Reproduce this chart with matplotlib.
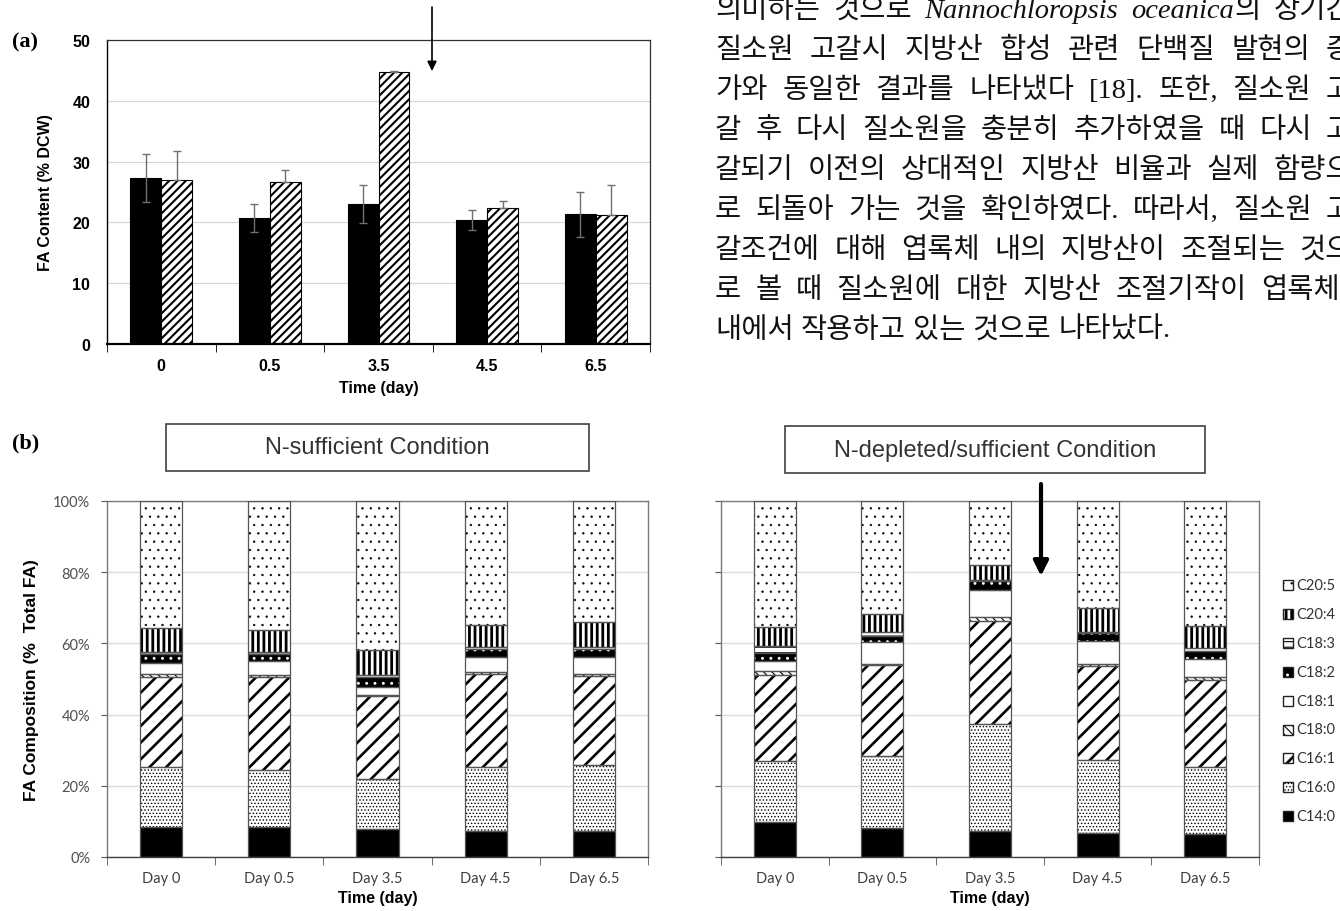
import matplotlib.pyplot as plt
import numpy as np
from matplotlib.patches import Rectangle

plt.rcParams['font.family'] = ['Liberation Sans', 'DejaVu Sans']

W, H = 1340, 912

# (a) total fatty acid content, % of dry cell weight
a_days = ['0', '0.5', '3.5', '4.5', '6.5']
fa_sufficient = [27.3, 20.7, 23.0, 20.4, 21.3]
fa_sufficient_err = [3.9, 2.35, 3.15, 1.6, 3.7]
fa_depleted = [26.9, 26.7, 44.7, 22.4, 21.2]
fa_depleted_err = [4.9, 2.0, 0.2, 1.15, 4.95]

# (b) fatty acid composition, % of total FA (rows follow fatty_acids, columns b_days)
b_days = ['Day 0', 'Day 0.5', 'Day 3.5', 'Day 4.5', 'Day 6.5']
fatty_acids = ['C14:0', 'C16:0', 'C16:1', 'C18:0', 'C18:1', 'C18:2', 'C18:3', 'C20:4', 'C20:5']
comp_sufficient = [
    [8.5, 8.3, 7.9, 7.4, 7.4],
    [16.9, 16.2, 14.1, 18.0, 18.5],
    [25.1, 26.2, 23.1, 26.0, 25.0],
    [0.8, 0.4, 0.4, 0.5, 0.5],
    [3.2, 4.0, 2.3, 4.3, 4.9],
    [2.5, 2.0, 2.7, 2.2, 2.1],
    [0.7, 0.5, 0.5, 0.6, 0.6],
    [6.7, 6.3, 7.2, 6.3, 7.1],
    [35.6, 36.1, 41.8, 34.7, 33.9],
]
comp_depleted = [
    [9.8, 8.1, 7.2, 6.8, 6.5],
    [17.1, 20.2, 30.3, 20.5, 18.8],
    [24.3, 25.5, 28.9, 26.3, 24.3],
    [1.0, 0.5, 1.0, 0.6, 1.0],
    [2.8, 6.0, 7.7, 6.5, 5.0],
    [2.2, 1.8, 2.3, 2.2, 2.3],
    [2.2, 1.2, 0.3, 0.4, 0.7],
    [5.3, 5.0, 4.2, 6.6, 6.3],
    [35.3, 31.7, 18.1, 30.1, 35.1],
]

# face colour, hatch, hatch colour, hatch line width
fa_styles = [
    ('black', '', 'black', 1.0),
    ('white', '.....', 'black', 0.6),
    ('white', '//', 'black', 1.9),
    ('white', '\\\\\\\\', 'black', 0.8),
    ('white', '', 'black', 1.0),
    ('black', '..', 'white', 0.9),
    ('white', '---', 'black', 0.8),
    ('white', '|||', 'black', 2.0),
    ('white', '..', 'black', 0.45),
]

para_lines = [
    '의미하는 것으로 *Nannochloropsis* *oceanica*의 장기간',
    '질소원 고갈시 지방산 합성 관련 단백질 발현의 증',
    '가와 동일한 결과를 나타냈다 [18]. 또한, 질소원 고',
    '갈 후 다시 질소원을 충분히 추가하였을 때 다시 고',
    '갈되기 이전의 상대적인 지방산 비율과 실제 함량으',
    '로 되돌아 가는 것을 확인하였다. 따라서, 질소원 고',
    '갈조건에 대해 엽록체 내의 지방산이 조절되는 것으',
    '로 볼 때 질소원에 대한 지방산 조절기작이 엽록체',
    '내에서 작용하고 있는 것으로 나타났다.',
]
para_right = [1352] * 7 + [1340, None]

fig = plt.figure(figsize=(W / 100, H / 100), dpi=100)


def add_axes_px(left, top, right, bottom):
    return fig.add_axes([left / W, 1 - bottom / H, (right - left) / W, (bottom - top) / H])


def set_hatch_lw(patches, lw):
    for p in patches:
        if hasattr(p, 'set_hatch_linewidth'):
            p.set_hatch_linewidth(lw)


def category_ticks(ax, labels, **kw):
    n = len(labels)
    ax.set_xlim(-0.5, n - 0.5)
    ax.set_xticks(np.arange(n))
    ax.set_xticklabels(labels, **kw)
    ax.set_xticks(np.arange(n + 1) - 0.5, minor=True)
    ax.tick_params(axis='x', which='major', length=0, pad=10)
    ax.tick_params(axis='x', which='minor', length=6, direction='out')


# ---------------- (a) ----------------
ax_a = add_axes_px(107, 41, 650, 345)
x = np.arange(len(a_days))
bw = 0.285
ax_a.bar(x - bw / 2, fa_sufficient, bw, color='black', edgecolor='black', lw=0.8, zorder=2)
with plt.rc_context({'hatch.linewidth': 1.5}):
    hb = ax_a.bar(x + bw / 2, fa_depleted, bw, color='white', edgecolor='black',
                  hatch='////', lw=0.8, zorder=2)
set_hatch_lw(hb, 1.5)
ax_a.errorbar(x - bw / 2, fa_sufficient, yerr=fa_sufficient_err, fmt='none',
              ecolor='#707070', elinewidth=1, capsize=3, capthick=1, zorder=3)
ax_a.errorbar(x + bw / 2, fa_depleted, yerr=[np.zeros(len(x)), fa_depleted_err], fmt='none',
              ecolor='#707070', elinewidth=1, capsize=3, capthick=1, zorder=3)
ax_a.set_ylim(0, 50)
ax_a.set_yticks(range(0, 51, 10))
ax_a.yaxis.grid(True, color='#d4d4d4', lw=0.8)
ax_a.set_axisbelow(True)
ax_a.tick_params(axis='y', length=0, pad=12)
category_ticks(ax_a, a_days)
for lab in ax_a.get_xticklabels() + ax_a.get_yticklabels():
    lab.set_fontweight('bold')
    lab.set_fontsize(11.5)
ax_a.set_xlabel('Time (day)', fontsize=11.5, fontweight='bold', labelpad=5)
ax_a.set_ylabel('FA Content (% DCW)', fontsize=11.5, fontweight='bold', labelpad=14)
for side in ['top', 'right']:
    ax_a.spines[side].set_color('#303030')
    ax_a.spines[side].set_linewidth(0.9)
ax_a.spines['left'].set_linewidth(1.0)
ax_a.spines['bottom'].set_linewidth(1.6)

fig.text(12 / W, 1 - 42 / H, '(a)', family='Liberation Serif', fontweight='bold',
         fontsize=16, va='center', ha='left')
fig.text(12 / W, 1 - 443 / H, '(b)', family='Liberation Serif', fontweight='bold',
         fontsize=16, va='center', ha='left')

# arrow marking the re-addition of nitrogen
fig.add_artist(plt.Annotation('', xy=(432, H - 72), xytext=(432, H - 8),
                              xycoords='figure pixels', textcoords='figure pixels',
                              arrowprops=dict(arrowstyle='-|>', lw=1.2, color='black',
                                              mutation_scale=14, shrinkA=0, shrinkB=0)))


# ---------------- (b) ----------------
def stacked(ax, comp):
    xb = np.arange(len(b_days))
    width = 0.39
    bottom = np.zeros(len(b_days))
    for vals, (face, hatch, hcol, hlw) in zip(comp, fa_styles):
        vals = np.array(vals)
        with plt.rc_context({'hatch.linewidth': hlw}):
            bars = ax.bar(xb, vals, width, bottom=bottom, color=face, edgecolor=hcol,
                          hatch=hatch or None, lw=0, zorder=2)
        set_hatch_lw(bars, hlw)
        ax.bar(xb, vals, width, bottom=bottom, fill=False, edgecolor='#555555', lw=0.9, zorder=3)
        bottom += vals
    ax.set_ylim(0, 100)
    ax.set_yticks(range(0, 101, 20))
    ax.yaxis.grid(True, color='#dcdcdc', lw=1.0)
    ax.set_axisbelow(True)
    category_ticks(ax, b_days, fontsize=10.5, color='#404040', family=['Lato', 'DejaVu Sans'])
    ax.tick_params(axis='x', which='minor', color='#555555')
    ax.tick_params(axis='y', length=4, color='#555555', pad=8)
    ax.set_xlabel('Time (day)', fontsize=11.5, fontweight='bold', labelpad=4)
    for s in ax.spines.values():
        s.set_color('#7a7a7a')
        s.set_linewidth(1.0)
    ax.spines['bottom'].set_color('#404040')


ax_l = add_axes_px(107, 502, 648, 858)
stacked(ax_l, comp_sufficient)
ax_l.set_yticklabels([f'{v}%' for v in range(0, 101, 20)], fontsize=10.5, color='#505050',
                     family=['Lato', 'DejaVu Sans'])
ax_l.set_ylabel('FA Composition (%  Total FA)', fontsize=12.5, fontweight='bold', labelpad=10)

ax_r = add_axes_px(721, 502, 1259, 858)
stacked(ax_r, comp_depleted)
ax_r.set_yticklabels([])

# condition boxes above each panel
for (l, t, r, b), title in [((166, 425, 589, 472), 'N-sufficient Condition'),
                            ((785, 427, 1205, 474), 'N-depleted/sufficient Condition')]:
    fig.add_artist(Rectangle((l / W, 1 - b / H), (r - l) / W, (b - t) / H,
                             transform=fig.transFigure, fill=False, ec='#404040', lw=1.2))
    fig.text((l + r) / 2 / W, 1 - (t + b) / 2 / H, title, ha='center', va='center',
             fontsize=17, color='#333333')

fig.add_artist(plt.Annotation('', xy=(1041, H - 577), xytext=(1041, H - 485),
                              xycoords='figure pixels', textcoords='figure pixels',
                              arrowprops=dict(arrowstyle='-|>', lw=3, color='black',
                                              mutation_scale=22, shrinkA=0, shrinkB=0)))

# legend, top entry first
for i, (name, (face, hatch, hcol, hlw)) in enumerate(zip(fatty_acids[::-1], fa_styles[::-1])):
    yc = 586 + 28.9 * i
    with plt.rc_context({'hatch.linewidth': hlw}):
        sw = Rectangle((1283 / W, (H - yc - 5) / H), 10 / W, 10 / H, transform=fig.transFigure,
                       facecolor=face, edgecolor=hcol, hatch=hatch or None, lw=0)
    set_hatch_lw([sw], hlw)
    fig.add_artist(sw)
    fig.add_artist(Rectangle((1283 / W, (H - yc - 5) / H), 10 / W, 10 / H,
                             transform=fig.transFigure, fill=False, ec='#222222', lw=1))
    fig.text(1296 / W, (H - yc) / H, name, ha='left', va='center', fontsize=10.5,
             color='#333333', family=['Lato', 'DejaVu Sans'])

# ---------------- body text ----------------
renderer = fig.canvas.get_renderer()
body = dict(family=['Liberation Serif', 'Noto Sans CJK KR'], fontsize=20.5, color='#111111')
ital = dict(family=['Liberation Serif'], style='italic', fontsize=20.5, color='#111111')


def text_width(s, props):
    t = fig.text(0, 0, s, **props)
    w = t.get_window_extent(renderer).width
    t.remove()
    return w


space_w = text_width('가 가', body) - text_width('가가', body)
x0 = 715
for i, line in enumerate(para_lines):
    words = []
    for w in line.split(' '):
        parts = w.split('*')
        words.append([(p, k % 2 == 1) for k, p in enumerate(parts) if p])
    widths = [[text_width(s, ital if it else body) for s, it in w] for w in words]
    total = sum(sum(ws) for ws in widths)
    if para_right[i] is None:
        gap = space_w
    else:
        gap = (para_right[i] - x0 - total) / (len(words) - 1)
    xx = x0
    yb = H - (18 + 40 * i)
    for w, ws in zip(words, widths):
        xr = xx
        for (s, it), wd in zip(w, ws):
            fig.text(xr / W, yb / H, s, ha='left', va='baseline', **(ital if it else body))
            xr += wd
        xx += sum(ws) + gap

fig.savefig('out.png', dpi=100)
